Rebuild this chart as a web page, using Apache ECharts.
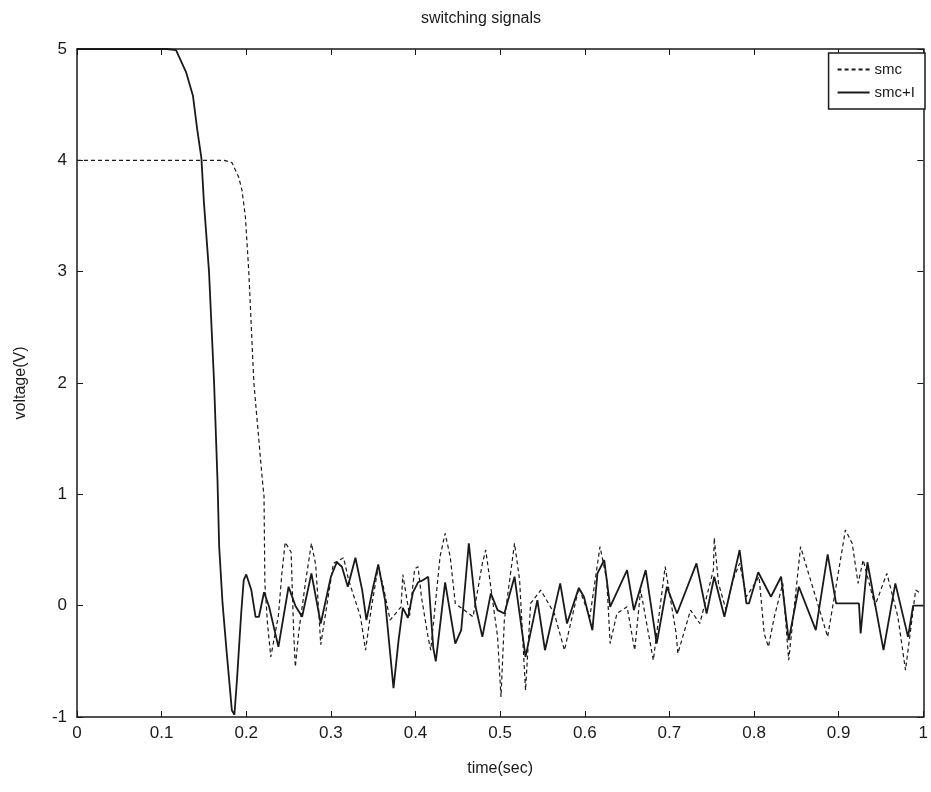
<!DOCTYPE html>
<html><head><meta charset="utf-8">
<script src="https://cdn.jsdelivr.net/npm/echarts@6/dist/echarts.min.js"></script>
<style>html,body{margin:0;padding:0;background:#fff}#c{width:931px;height:792px}</style>
</head><body><div id="c"></div>
<script>
const xTicks = [0,0.1,0.2,0.3,0.4,0.5,0.6,0.7,0.8,0.9,1];
const yTicks = [-1,0,1,2,3,4,5];
const seriesNames = ['smc','smc+I'];

// smc (dashed): [time, voltage]
const smcT = [0,0.174,0.183,0.191,0.195,0.199,0.203,0.209,0.219,0.221,0.222,0.225,0.229,0.238,0.242,0.246,0.253,0.256,0.258,0.262,0.270,0.277,0.282,0.286,0.288,0.303,0.315,0.321,0.335,0.341,0.348,0.356,0.362,0.370,0.383,0.385,0.393,0.399,0.403,0.407,0.415,0.418,0.429,0.435,0.441,0.447,0.468,0.479,0.483,0.497,0.501,0.505,0.517,0.523,0.530,0.536,0.548,0.564,0.576,0.593,0.606,0.618,0.626,0.630,0.638,0.650,0.659,0.666,0.681,0.695,0.708,0.710,0.725,0.736,0.752,0.753,0.758,0.767,0.775,0.783,0.791,0.806,0.812,0.817,0.824,0.834,0.841,0.855,0.864,0.887,0.908,0.916,0.923,0.929,0.943,0.957,0.970,0.979,0.991,0.995];
const smcV = [4,4.0,3.98,3.85,3.73,3.49,3.0,2.0,1.13,0.98,0.2,-0.15,-0.46,-0.09,0.28,0.57,0.48,-0.24,-0.55,-0.24,0.21,0.56,0.37,-0.09,-0.35,0.38,0.43,0.23,-0.1,-0.4,-0.01,0.35,0.17,-0.13,-0.01,0.28,-0.09,0.33,0.35,0.08,-0.29,-0.4,0.44,0.65,0.44,0.02,-0.1,0.38,0.5,-0.28,-0.82,-0.13,0.56,0.23,-0.76,0.02,0.14,-0.07,-0.4,0.16,-0.1,0.53,0.23,-0.34,-0.07,-0.01,-0.4,0.14,-0.49,0.35,-0.25,-0.43,-0.04,-0.16,0.32,0.61,0.2,-0.04,0.23,0.38,0.08,0.26,-0.25,-0.37,-0.1,0.2,-0.49,0.53,0.3,-0.28,0.68,0.56,0.2,0.41,0.0,0.29,-0.1,-0.58,0.14,0.12];

// smc+I (solid)
const smciT = [0,0.106,0.117,0.129,0.137,0.142,0.147,0.150,0.156,0.162,0.166,0.168,0.172,0.177,0.183,0.186,0.189,0.194,0.197,0.200,0.206,0.211,0.215,0.221,0.227,0.238,0.250,0.258,0.266,0.277,0.288,0.300,0.307,0.313,0.320,0.329,0.337,0.342,0.350,0.356,0.364,0.374,0.380,0.385,0.391,0.397,0.403,0.409,0.415,0.421,0.424,0.435,0.447,0.454,0.463,0.471,0.479,0.489,0.497,0.505,0.517,0.530,0.544,0.553,0.571,0.579,0.593,0.599,0.609,0.615,0.623,0.630,0.650,0.658,0.672,0.685,0.697,0.709,0.732,0.744,0.753,0.765,0.783,0.791,0.794,0.805,0.820,0.832,0.841,0.853,0.873,0.887,0.897,0.924,0.926,0.934,0.953,0.967,0.982,0.988,1.0];
const smciV = [5,5,4.99,4.79,4.58,4.28,4.02,3.62,3.0,2.0,1.13,0.53,0.02,-0.43,-0.94,-0.98,-0.67,-0.07,0.23,0.28,0.14,-0.1,-0.1,0.12,-0.01,-0.37,0.17,0.0,-0.1,0.29,-0.16,0.26,0.39,0.35,0.17,0.43,0.14,-0.13,0.17,0.37,0.05,-0.74,-0.31,-0.02,-0.11,0.12,0.21,0.23,0.26,-0.38,-0.5,0.21,-0.34,-0.22,0.56,-0.01,-0.28,0.11,-0.04,-0.07,0.26,-0.46,0.05,-0.4,0.2,-0.16,0.16,0.08,-0.22,0.29,0.41,-0.01,0.32,-0.04,0.32,-0.34,0.17,-0.07,0.38,-0.07,0.26,-0.1,0.5,0.02,0.02,0.3,0.08,0.26,-0.31,0.17,-0.22,0.46,0.02,0.02,-0.25,0.39,-0.4,0.2,-0.28,0.0,0.0];

const zip = (a,b)=>a.map((t,i)=>[t,b[i]]);
const font = 'Liberation Sans, Arial, Helvetica, sans-serif';
const ink = '#1a1a1a';
const chart = echarts.init(document.getElementById('c'));
const axLine = {show:true, onZero:false, lineStyle:{color:ink, width:1.5}};
const tick = {show:true, inside:true, length:6, lineStyle:{color:ink, width:1}};
chart.setOption({
  animation:false,
  backgroundColor:'#fff',
  title:{text:'switching signals', left:476, top:6, textAlign:'center',
    textStyle:{fontFamily:font, fontSize:16, fontWeight:'normal', color:ink}},
  legend:{data:seriesNames, orient:'vertical', right:6, top:53, itemWidth:32, itemHeight:10, itemGap:8,
    padding:[9,10,9,8], borderColor:ink, borderWidth:1.5, backgroundColor:'#fff', borderRadius:0,
    itemStyle:{opacity:0},
    textStyle:{fontFamily:font, fontSize:15, color:ink}},
  grid:{left:77, right:3, top:49, bottom:75, show:false},
  xAxis:[
    {type:'value', min:0, max:1, interval:0.1, position:'bottom',
     name:'time(sec)', nameLocation:'middle', nameGap:44,
     nameTextStyle:{fontFamily:font, fontSize:16, color:ink},
     axisLine:axLine, axisTick:tick, splitLine:{show:false},
     axisLabel:{fontFamily:font, fontSize:17, color:ink, margin:8,
       formatter:v=>String(Math.round(v*10)/10)}},
    {type:'value', min:0, max:1, interval:0.1, position:'top',
     axisLine:axLine, axisTick:tick, splitLine:{show:false}, axisLabel:{show:false}}
  ],
  yAxis:[
    {type:'value', min:-1, max:5, interval:1, position:'left',
     name:'voltage(V)', nameLocation:'middle', nameGap:48, nameRotate:90,
     nameTextStyle:{fontFamily:font, fontSize:16, color:ink},
     axisLine:axLine, axisTick:tick, splitLine:{show:false},
     axisLabel:{fontFamily:font, fontSize:17, color:ink, margin:10}},
    {type:'value', min:-1, max:5, interval:1, position:'right',
     axisLine:axLine, axisTick:tick, splitLine:{show:false}, axisLabel:{show:false}}
  ],
  series:[
    {name:seriesNames[0], type:'line', data:zip(smcT,smcV), symbol:'none', smooth:false,
     lineStyle:{color:ink, width:1.2, type:[4,3]}, itemStyle:{color:ink}, z:3},
    {name:seriesNames[1], type:'line', data:zip(smciT,smciV), symbol:'none', smooth:false,
     lineStyle:{color:ink, width:1.8, type:'solid'}, itemStyle:{color:ink}, z:4}
  ]
});
</script></body></html>
